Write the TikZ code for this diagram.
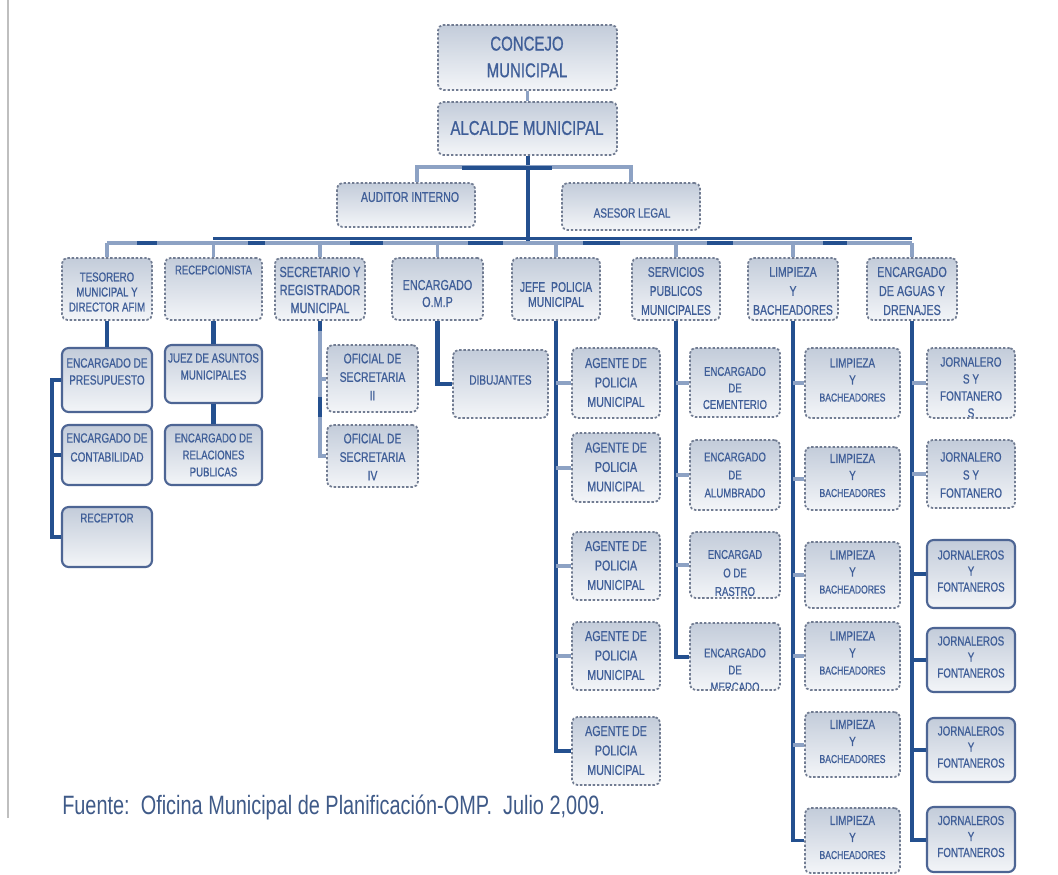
\documentclass[tikz,border=0pt]{standalone}
\usepackage{fontspec}
\setmainfont{Liberation Sans}[FakeStretch=0.75]
\newfontfamily\boxfont{Liberation Sans}[FakeStretch=0.75,FakeBold=0.7]
\usetikzlibrary{fit}
\definecolor{txtc}{HTML}{3F5E98}
\definecolor{fnc}{HTML}{3F5A88}
\definecolor{dkl}{HTML}{24508F}
\definecolor{ltl}{HTML}{8DA2C4}
\definecolor{dotc}{HTML}{717C92}
\definecolor{solc}{HTML}{4D6594}
\definecolor{topf}{HTML}{C3CCDA}
\definecolor{botf}{HTML}{F3F5F8}
\tikzset{
 dbox/.style={rounded corners=4pt, draw=dotc, line width=1.3pt, dash pattern=on 1.8pt off 1.4pt, top color=topf, bottom color=botf, inner sep=0pt},
 sbox/.style={rounded corners=5pt, draw=solc, line width=1.6pt, top color=topf, bottom color=botf, inner sep=0pt},
 txt/.style={text=txtc, align=center, inner sep=0pt},
 dark/.style={draw=dkl, line width=3pt},
 light/.style={draw=ltl, line width=3pt},
}
\newcommand\fs[2]{\boxfont\fontsize{#1}{#2}\selectfont}
\begin{document}
\begin{tikzpicture}[x=0.75pt,y=-0.75pt]
\useasboundingbox (0,0) rectangle (1058,875);
\fill[white] (0,0) rectangle (1058,875);
\draw[black!25, line width=0.8pt] (8,0) -- (8,818);

% ---------- top ----------
\node[dbox, fit={(438,25)(617,90)}] (con) {};
\node[txt, font=\fs{15}{20}] (tcon) at (527,57) {CONCEJO\\MUNICIPAL};
\node[dbox, fit={(438,102)(617,155)}] (alc) {};
\node[txt, font=\fs{15}{20}] (talc) at (527,128) {ALCALDE MUNICIPAL};
\draw[ltl, line width=2pt] (con.south) -- (alc.north);

\node[dbox, fit={(337,183)(475,227)}] (aud) {};
\node[txt, font=\fs{10.6}{13}] (taud) at (410,197) {AUDITOR INTERNO};
\node[dbox, fit={(562,183)(700,230)}] (ase) {};
\node[txt, font=\fs{10}{13}] (tase) at (632,213) {ASESOR LEGAL};

% ---------- level 2 ----------
\node[dbox, fit={(62,258)(152,320)}] (tes) {};
\node[txt, font=\fs{9.7}{11.25}] (ttes) at (107,292) {TESORERO\\MUNICIPAL Y\\DIRECTOR AFIM};
\node[dbox, fit={(165,258)(262,320)}] (rcp) {};
\node[txt, font=\fs{9.5}{12}] (trcp) at (213.5,270) {RECEPCIONISTA};
\node[dbox, fit={(275,258)(365,320)}] (sec) {};
\node[txt, font=\fs{11}{13.5}] (tsec) at (320,290) {SECRETARIO Y\\REGISTRADOR\\MUNICIPAL};
\node[dbox, fit={(392,258)(483,320)}] (omp) {};
\node[txt, font=\fs{10.8}{12.75}] (tomp) at (437.5,293.5) {ENCARGADO\\O.M.P};
\node[dbox, fit={(512,258)(600,320)}] (jef) {};
\node[txt, font=\fs{10.4}{11.25}] (tjef) at (556,294.5) {JEFE\ \ POLICIA\\MUNICIPAL};
\node[dbox, fit={(632,258)(720,320)}] (ser) {};
\node[txt, font=\fs{10.4}{14.25}] (tser) at (676,291) {SERVICIOS\\PUBLICOS\\MUNICIPALES};
\node[dbox, fit={(748,258)(838,320)}] (lim) {};
\node[txt, font=\fs{10.4}{14.25}] (tlim) at (793,291) {LIMPIEZA\\Y\\BACHEADORES};
\node[dbox, fit={(867,258)(957,320)}] (agu) {};
\node[txt, font=\fs{10.8}{14.25}] (tagu) at (912,291) {ENCARGADO\\DE AGUAS Y\\DRENAJES};

% ---------- Tesorero children ----------
\node[sbox, fit={(62,348)(152,412)}] (pre) {};
\node[txt, font=\fs{10}{12.75}] (tpre) at (107,371.5) {ENCARGADO DE\\PRESUPUESTO};
\node[sbox, fit={(62,425)(152,485)}] (cnt) {};
\node[txt, font=\fs{10}{14.25}] (tcnt) at (107,447.5) {ENCARGADO DE\\CONTABILIDAD};
\node[sbox, fit={(62,507)(152,567)}] (rtr) {};
\node[txt, font=\fs{9.6}{12}] (trtr) at (107,518) {RECEPTOR};

% ---------- Recepcionista children ----------
\node[sbox, fit={(165,345)(262,403)}] (juz) {};
\node[txt, font=\fs{9.8}{12.75}] (tjuz) at (213.5,366.5) {JUEZ DE ASUNTOS\\MUNICIPALES};
\node[sbox, fit={(165,425)(262,485)}] (rel) {};
\node[txt, font=\fs{9.6}{12.75}] (trel) at (213.5,455) {ENCARGADO DE\\RELACIONES\\PUBLICAS};

% ---------- Secretario children ----------
\node[dbox, fit={(327,345)(418,412)}] (of2) {};
\node[txt, font=\fs{10.4}{13.9}] (tof2) at (372.5,377) {OFICIAL DE\\SECRETARIA\\II};
\node[dbox, fit={(327,425)(418,487)}] (of4) {};
\node[txt, font=\fs{10.4}{13.9}] (tof4) at (372.5,457) {OFICIAL DE\\SECRETARIA\\IV};

% ---------- OMP child ----------
\node[dbox, fit={(453,350)(548,418)}] (dib) {};
\node[txt, font=\fs{10}{12}] (tdib) at (500.5,380) {DIBUJANTES};

% ---------- Agentes ----------
\foreach \n/\ya/\yb in {a1/348/418, a2/433/502, a3/532/600, a4/622/690, a5/717/785}{
  \node[dbox, fit={(572,\ya)(660,\yb)}] (\n) {};
  \node[txt, font=\fs{10.7}{14.6}] (t\n) at (616,{(\ya+\yb)/2-0.5}) {AGENTE DE\\POLICIA\\MUNICIPAL};
}

% ---------- Servicios children ----------
\node[dbox, fit={(690,348)(780,417)}] (s1) {};
\node[txt, font=\fs{9.6}{12.4}] (ts1) at (735,388) {ENCARGADO\\DE\\CEMENTERIO};
\node[dbox, fit={(690,440)(780,510)}] (s2) {};
\node[txt, font=\fs{9.6}{13.5}] (ts2) at (735,475) {ENCARGADO\\DE\\ALUMBRADO};
\node[dbox, fit={(690,532)(780,598)}] (s3) {};
\node[dbox, fit={(690,623)(780,690)}] (s4) {};
\begin{scope}
\clip (690,532) rectangle (780,596);
\node[txt, font=\fs{9.6}{13.9}] (ts3) at (735,573) {ENCARGAD\\O DE\\RASTRO};
\end{scope}
\begin{scope}
\clip (690,623) rectangle (780,688);
\node[txt, font=\fs{9.6}{12.75}] (ts4) at (735,670) {ENCARGADO\\DE\\MERCADO};
\end{scope}

% ---------- Limpieza children ----------
\foreach \n/\ya/\yb in {l1/348/418, l2/447/510, l3/542/608, l4/622/690, l5/712/777, l6/808/873}{
  \node[dbox, fit={(805,\ya)(900,\yb)}] (\n) {};
  \node[txt, font=\fs{9.9}{12.75}] (t\n) at (852.5,{(\ya+\yb)/2-3}) {LIMPIEZA\\Y\\{\fs{8.6}{12.75}BACHEADORES}};
}

% ---------- Aguas children ----------
\node[dbox, fit={(927,348)(1015,418)}] (j1) {};
\begin{scope}
\clip (927,348) rectangle (1015,416);
\node[txt, font=\fs{10}{12.75}] (tj1) at (971,387.5) {JORNALERO\\S Y\\FONTANERO\\S};
\end{scope}
\node[dbox, fit={(927,440)(1015,508)}] (j2) {};
\node[txt, font=\fs{10}{13.5}] (tj2) at (971,475) {JORNALERO\\S Y\\FONTANERO};
\foreach \n/\ya/\yb in {j3/540/608, j4/628/692, j5/718/782, j6/807/872}{
  \node[sbox, fit={(927,\ya)(1015,\yb)}] (\n) {};
  \node[txt, font=\fs{9.8}{12}] (t\n) at (971,{(\ya+\yb)/2-3}) {JORNALEROS\\Y\\FONTANEROS};
}

% ---------- connectors: top ----------
\coordinate (bl) at (107,243);
\coordinate (br) at (912,243);
\draw[dkl, line width=3pt] (alc.south) -- (alc.south |- bl);
\draw[light] ([xshift=8pt]aud.north) -- ++(0,-15) -| (ase.north);
\draw[dkl, line width=3.4pt] (462,168) -- (552,168);
\draw[ltl, line width=3.6pt] (bl) -- (br);
\draw[dkl, line width=1.8pt] (213,238.5) -- (912,238.5);
\foreach \a/\b in {137/157,248/265,350/383,468/503,583/620,707/733,823/847}
  \draw[dkl, line width=3.6pt] (\a,243) -- (\b,243);
\foreach \n in {tes,rcp,sec,omp,jef,ser,lim,agu}
  \draw[light, line width=2.6pt] (\n.north) -- (\n.north |- bl);

% ---------- connectors: columns ----------
\coordinate (tsp) at (52,0);
\draw[dark, line width=3.6pt] (tes.south) -- (pre.north);
\draw[dark, line width=3.6pt] (pre.west) -- (pre.west -| tsp) |- (rtr.west);
\draw[dark, line width=3.6pt] (cnt.west -| tsp) -- (cnt.west);
\draw[dark, line width=3.6pt] (rcp.south) -- (juz.north);
\draw[dark, line width=3.6pt] (juz.south) -- (rel.north);

\draw[light] (sec.south) |- (of4.west);
\draw[light] (sec.south |- of2.west) -- (of2.west);
\draw[dkl, line width=3pt] (320,321) -- (320,331);
\draw[dkl, line width=3pt] (320,397) -- (320,417);

\draw[dark, line width=3.4pt] (omp.south) |- (dib.west);

\draw[dark] (jef.south) |- (a5.west);
\foreach \n in {a1,a2,a3,a4} \draw[light] (jef.south |- \n.west) -- (\n.west);

\draw[dark] (ser.south) |- (s4.west);
\foreach \n in {s1,s2,s3} \draw[light] (ser.south |- \n.west) -- (\n.west);

\draw[dark, line width=2.4pt] (lim.south) |- (l6.west);
\foreach \n in {l1,l2,l3,l4,l5} \draw[light] (lim.south |- \n.west) -- (\n.west);

\draw[dark] (agu.south) |- (j6.west);
\foreach \n in {j1,j2} \draw[light] (agu.south |- \n.west) -- (\n.west);
\foreach \n in {j3,j4,j5} \draw[dark, line width=3.6pt] (agu.south |- \n.west) -- (\n.west);

% ---------- source ----------
\node[text=fnc, anchor=base west, inner sep=0pt, font=\fontsize{19.9}{22}\selectfont] (src) at (62,814)
  {Fuente:\ \ Oficina Municipal de Planificación-OMP.\ \ Julio 2,009.};
\end{tikzpicture}
\end{document}
